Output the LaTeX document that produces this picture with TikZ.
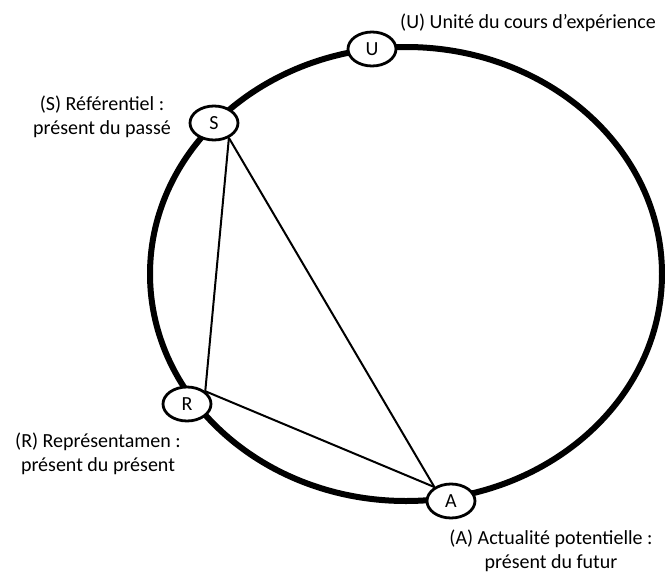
\documentclass[tikz,border=0pt]{standalone}
\usepackage{fontspec}
\setmainfont{Carlito}
\usetikzlibrary{shapes.geometric}

\begin{document}
\begin{tikzpicture}[x=1pt, y=-1pt, font=\fontsize{20}{24.5}\selectfont,
    pole/.style={draw, ellipse, line width=2.8pt, fill=white,
                 minimum width=48pt, minimum height=34pt, inner sep=0pt},
    legend/.style={align=center, inner sep=0pt},
    side/.style={line width=2pt}]
        \useasboundingbox (0,0) rectangle (665,576);                          %
        \draw [line width=6pt] (406,274) ellipse [x radius=256pt, y radius=227pt]; %cours
        \node [pole] (U) at (372,49)  {U};                                    %
        \node [pole] (S) at (214,123) {S};                                    %
        \node [pole] (R) at (187,404) {R};                                    %
        \node [pole] (A) at (451,501) {A};                                    %
        \draw [side] (S.-45) -- (R.35);                                       %
        \draw [side] (S.-45) -- (A.140);                                      %
        \draw [side] (R.35)  -- (A.140);                                      %
        \node [legend, anchor=west] (Ulabel) at (400,23)
              {(U) Unité du cours d’expérience};                              %
        \node [legend] (Slabel) at (102,117)
              {(S) Référentiel :\\présent du passé};                          %
        \node [legend] (Rlabel) at (98,454)
              {(R) Représentamen :\\présent du présent};                      %
        \node [legend] (Alabel) at (551,551)
              {(A) Actualité potentielle :\\présent du futur};                %
      \end{tikzpicture}
\end{document}
